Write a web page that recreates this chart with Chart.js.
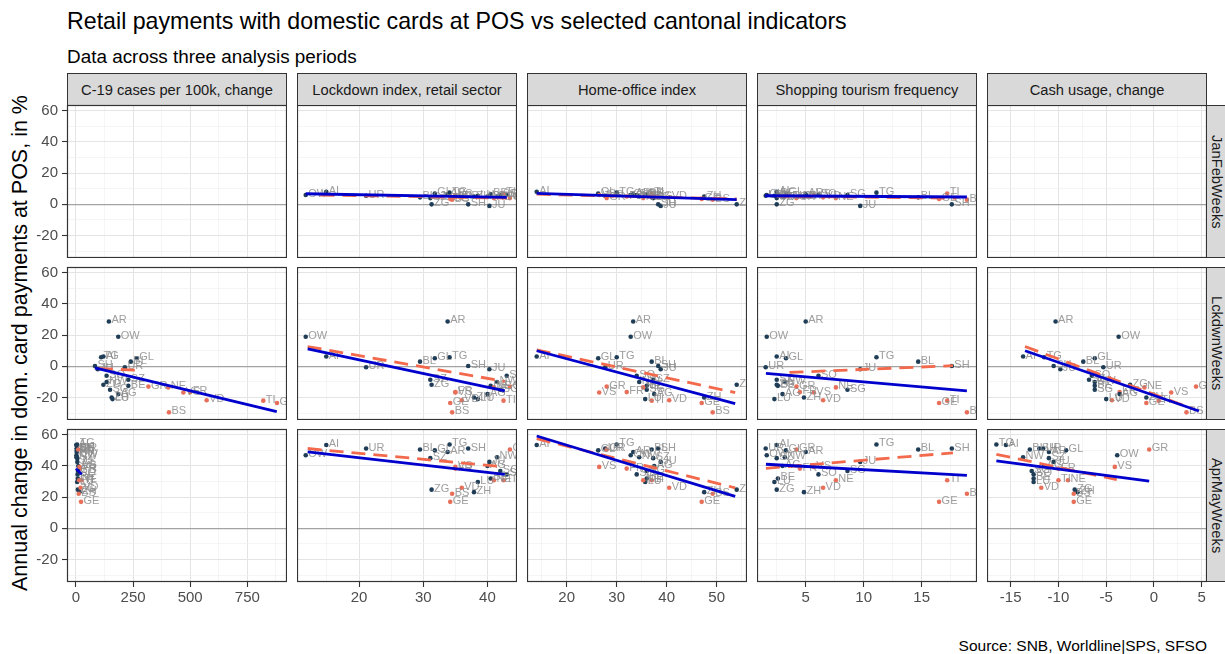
<!DOCTYPE html>
<html>
<head>
<meta charset="utf-8">
<script src="https://cdn.jsdelivr.net/npm/chart.js@4/dist/chart.umd.min.js"></script>
<style>
  body { margin: 0; width: 1225px; height: 654px; background: #fff; position: relative; overflow: hidden;
         font-family: "Liberation Sans", Arial, sans-serif; }
  .abs { position: absolute; }
  .title { left: 67px; top: 8px; font-size: 23.2px; color: #000; white-space: nowrap; }
  .subtitle { left: 67px; top: 46px; font-size: 18.9px; color: #000; white-space: nowrap; }
  .strip { box-sizing: border-box; border: 1px solid #333; background: #d9d9d9; color: #1a1a1a;
           font-size: 14.7px; display: flex; align-items: center; justify-content: center; white-space: nowrap; }
  .strip.side span { writing-mode: vertical-rl; }
  .ytitle { left: 20px; top: 343px; transform: translate(-50%, -50%) rotate(-90deg); font-size: 21.5px; white-space: nowrap; }
  .caption { right: 18px; top: 637px; font-size: 15.5px; color: #000; white-space: nowrap; }
  canvas { position: absolute; }
</style>
</head>
<body>
<div class="abs title">Retail payments with domestic cards at POS vs selected cantonal indicators</div>
<div class="abs subtitle">Data across three analysis periods</div>
<div class="abs ytitle">Annual change in dom. card payments at POS, in %</div>
<div class="abs caption">Source: SNB, Worldline|SPS, SFSO</div>
<script>
// --- data ---
const cantons = ['ZH','BE','LU','UR','SZ','OW','NW','GL','ZG','FR','SO','BS','BL','SH','AR','AI','SG','GR','AG','TG','TI','VD','VS','NE','GE','JU'];
const latin   = [0,0,0,0,0,0,0,0,0,1,0,1,0,0,0,0,0,1,0,0,1,1,1,1,1,0];

const lockdownIdx = [37.9,40.5,38.5,21.1,31.1,11.7,41.5,31.8,31.3,35,43,34.5,29.5,37,33.8,14.9,42,43.5,40,34.1,42.5,36,35,41,34.2,40.3];
const homeOffice  = [47.5,36,35.7,27.7,37.3,32.8,34.5,26.3,54,32,34,49.2,37,38.3,33.3,14,36,28,37.5,30,37,40.5,26.5,35.3,47,38.8];
const shopTourism = [4.85,2.6,2.3,1.55,2.5,1.64,3.2,3.3,2.5,4.5,6.1,18.9,14.7,17.6,5,2.5,8.6,4.2,3,11.1,17.2,6.5,5.7,7.6,16.5,9.7];
const covidLckdwn = [156,229,160,214,229,185,134,266,120,500,134,407,240,83,144,120,149,317,185,110,820,572,470,404,880,95];
const covidAprMay = [15,8,5,3,6,2,2,4,8,18,7,12,6,4,3,1,9,10,10,5,25,20,15,14,22,6];
const cashLckdwn  = [-0.8,-6.2,-5,-5.3,-6.8,-3.7,-6.2,-6.2,-2.5,-3.6,-6.5,3.4,-7.4,-10.5,-10.3,-13.7,-6.2,4.4,-3.6,-11.5,0.5,-4.4,1.8,-1,-0.8,-9.8];
const cashAprMay  = [-8,-12.6,-12.6,-11.6,-11,-3.85,-13.7,-9.2,-8.3,-10,-12.6,-8.4,-13,-12,-11,-15.5,-12.8,-0.5,-11.5,-16.5,-10,-11.8,-4.1,-9,-8.4,-10.5];

const payJanFeb = [5,6.5,5.5,5.5,4,6,5,7,0,5,6,3,4.5,0,6.5,8,6,4,5,7.5,7,4.5,6,4,3.5,-1];
const payLckdwn = [-20,-12.5,-21,-0.6,-8.6,19,-10,5.2,-11.8,-16.5,-6,-29.5,3,0.2,28.8,6.3,-15,-13,-17.8,5.8,-22,-21.7,-16.8,-13.5,-23.5,-1.9];
const payAprMay = [23.2,32,29.7,51.2,45,46.9,45.6,50,24.8,38.3,34.6,22.2,50.6,51.2,49,53.4,36.8,50.6,40,53.8,30.8,26,39.4,30.8,17,42.6];

const indicators = ['C-19 cases per 100k, change','Lockdown index, retail sector','Home-office index','Shopping tourism frequency','Cash usage, change'];
const periods = ['JanFebWeeks','LckdwnWeeks','AprMayWeeks'];

const xMajor = [[0,250,500,750],[20,30,40],[20,30,40,50],[5,10,15],[-15,-10,-5,0,5]];
const yMajor = [-20,0,20,40,60];

// x values per period (rows) and indicator (columns); null = no data
const xByPanel = [
  [null, lockdownIdx, homeOffice, shopTourism, null],
  [covidLckdwn, lockdownIdx, homeOffice, shopTourism, cashLckdwn],
  [covidAprMay, lockdownIdx, homeOffice, shopTourism, cashAprMay]
];
const yByRow = [payJanFeb, payLckdwn, payAprMay];

// fitted lines: [x0, y0, x1, y1]
const fitSolid = [
  [null, [11.7,6.8,43,4.5], [14,7,54,3], [1.5,5.5,18.9,4.7], null],
  [[83,-1,879,-29], [12,11.2,42.7,-15.7], [14,10,53.7,-23.9], [1.57,-4.5,18.9,-15.7], [-13.5,10,4.7,-28.6]],
  [[0,38.3,25,34.6], [12,49,42.7,34.6], [14,59.2,53.7,20.5], [1.57,41.1,18.9,34], [-16.5,43.2,-0.5,30.3]]
];
const fitDashed = [
  [null, [14,6,43,4], [14,6.5,54,3.5], [2.5,5.3,18,4], null],
  [[100,-1.5,280,-2.5], [12,12.7,42.7,-9.7], [14,10.6,53.7,-16.8], [3.6,-3.9,17.7,0.4], [-13.5,12.7,4.2,-27.5]],
  [null, [12,51.2,42.7,39.4], [14,57.5,53.7,26], [1.57,38.5,17.7,48.4], [-16.5,47.5,-3.9,31.2]]
];

// --- layout ---
const colLeft = [67, 297, 527, 757, 987];
const rowTop = [105, 267, 429];
const PW = 220, PH = 153;
const xRange = [[-39.4,923.8],[10.34,44.6],[12.06,56.06],[0.8,19.77],[-17.48,5.55]];
const yRange = [-34.4, 63.7];
const FONT = '"Liberation Sans", Arial, sans-serif';
const TICK_FONT = '15px ' + FONT;

function withMinors(majors, min, max) {
  const half = (majors[1] - majors[0]) / 2;
  const out = [];
  for (let v = majors[0] - half; v <= majors[majors.length - 1] + half + 1e-9; v += half) {
    if (v >= min && v <= max) out.push(+v.toFixed(6));
  }
  return out;
}
const isMajor = (list, v) => list.some(m => Math.abs(m - v) < 1e-6);

// panel border + tick labels (placed through the chart's own scales)
const framePlugin = {
  id: 'frame',
  afterDraw(chart, args, opts) {
    const a = chart.chartArea, c = chart.ctx;
    c.save();
    c.strokeStyle = '#333';
    c.lineWidth = 1.2;
    c.strokeRect(a.left + 0.5, a.top + 0.5, a.right - a.left - 1, a.bottom - a.top - 1);
    c.font = TICK_FONT;
    c.fillStyle = '#4d4d4d';
    if (opts.yLabels) {
      c.textAlign = 'right';
      c.textBaseline = 'middle';
      yMajor.forEach(v => c.fillText(String(v), a.left - 9, chart.scales.y.getPixelForValue(v)));
    }
    if (opts.xLabels) {
      c.textAlign = 'center';
      c.textBaseline = 'top';
      opts.xLabels.forEach(v => c.fillText(String(v), chart.scales.x.getPixelForValue(v), a.bottom + 8));
    }
    c.restore();
  }
};

const tagPlugin = {
  id: 'tags',
  afterDatasetDraw(chart, args) {
    if (args.index !== 2) return;
    const a = chart.chartArea, c = chart.ctx;
    c.save();
    c.beginPath();
    c.rect(a.left, a.top, a.right - a.left, a.bottom - a.top);
    c.clip();
    c.font = '11px ' + FONT;
    c.fillStyle = 'rgba(140,140,140,0.85)';
    c.textBaseline = 'middle';
    args.meta.data.forEach((p, i) => c.fillText(cantons[i], p.x + 2.5, p.y - 1));
    c.restore();
  }
};

function lineData(f) {
  return f ? [{ x: f[0], y: f[1] }, { x: f[2], y: f[3] }] : [];
}

function makePanel(r, c) {
  const leftCol = c === 0, bottomRow = r === 2;
  const extraL = leftCol ? 50 : 0, extraT = leftCol ? 10 : 0, extraB = bottomRow ? 30 : 0;
  const cv = document.createElement('canvas');
  cv.width = PW + extraL;
  cv.height = PH + extraT + extraB;
  cv.style.left = (colLeft[c] - extraL) + 'px';
  cv.style.top = (rowTop[r] - extraT) + 'px';
  cv.style.width = cv.width + 'px';
  cv.style.height = cv.height + 'px';
  document.body.appendChild(cv);

  const xs = xByPanel[r][c], ys = yByRow[r];
  const pts = xs ? xs.map((x, i) => ({ x: x, y: ys[i] })) : [];
  const xTicks = withMinors(xMajor[c], xRange[c][0], xRange[c][1]);
  const yTicks = withMinors(yMajor, yRange[0], yRange[1]);

  new Chart(cv, {
    type: 'scatter',
    data: {
      datasets: [
        { data: lineData(fitSolid[r][c]), showLine: true, borderColor: '#0000cd', borderWidth: 2.8,
          pointRadius: 0, fill: false },
        { data: lineData(fitDashed[r][c]), showLine: true, borderColor: '#f2694c', borderWidth: 2.8,
          borderDash: [14, 8], pointRadius: 0, fill: false },
        { data: pts, pointRadius: 2.3, borderWidth: 0,
          backgroundColor: latin.map(g => g ? '#e8705a' : '#1f3d56') }
      ]
    },
    options: {
      responsive: false,
      animation: false,
      devicePixelRatio: 1,
      events: [],
      layout: { padding: { top: extraT, left: 0, right: 0, bottom: 0 }, autoPadding: false },
      plugins: {
        legend: { display: false },
        tooltip: { enabled: false },
        frame: { yLabels: leftCol, xLabels: bottomRow ? xMajor[c] : null }
      },
      scales: {
        x: {
          type: 'linear', min: xRange[c][0], max: xRange[c][1],
          afterBuildTicks: s => { s.ticks = xTicks.map(v => ({ value: v })); },
          afterFit: s => { s.height = extraB; },
          border: { display: false },
          grid: {
            drawTicks: bottomRow, tickLength: 5, tickWidth: 1.1,
            tickColor: ctx => isMajor(xMajor[c], ctx.tick.value) ? '#333' : 'rgba(0,0,0,0)',
            color: ctx => isMajor(xMajor[c], ctx.tick.value) ? '#e4e4e4' : '#f0f0f0',
            lineWidth: ctx => isMajor(xMajor[c], ctx.tick.value) ? 1 : 0.7
          },
          ticks: { display: false }
        },
        y: {
          type: 'linear', min: yRange[0], max: yRange[1],
          afterBuildTicks: s => { s.ticks = yTicks.map(v => ({ value: v })); },
          afterFit: s => { s.width = extraL; },
          border: { display: false },
          grid: {
            drawTicks: leftCol, tickLength: 5, tickWidth: 1.1,
            tickColor: ctx => isMajor(yMajor, ctx.tick.value) ? '#333' : 'rgba(0,0,0,0)',
            color: ctx => ctx.tick.value === 0 ? '#a3a3a3' : (isMajor(yMajor, ctx.tick.value) ? '#e4e4e4' : '#f0f0f0'),
            lineWidth: ctx => ctx.tick.value === 0 ? 1.2 : (isMajor(yMajor, ctx.tick.value) ? 1 : 0.7)
          },
          ticks: { display: false }
        }
      }
    },
    plugins: [framePlugin, tagPlugin]
  });
}

// strips
indicators.forEach((name, c) => {
  const d = document.createElement('div');
  d.className = 'abs strip';
  d.style.left = colLeft[c] + 'px';
  d.style.top = '73px';
  d.style.width = PW + 'px';
  d.style.height = '33px';
  d.textContent = name;
  document.body.appendChild(d);
});
periods.forEach((name, r) => {
  const d = document.createElement('div');
  d.className = 'abs strip side';
  d.style.left = (colLeft[4] + PW - 1) + 'px';
  d.style.top = rowTop[r] + 'px';
  d.style.width = '21px';
  d.style.height = PH + 'px';
  const s = document.createElement('span');
  s.textContent = name;
  d.appendChild(s);
  document.body.appendChild(d);
});

for (let r = 0; r < 3; r++) {
  for (let c = 0; c < 5; c++) makePanel(r, c);
}
</script>
</body>
</html>
